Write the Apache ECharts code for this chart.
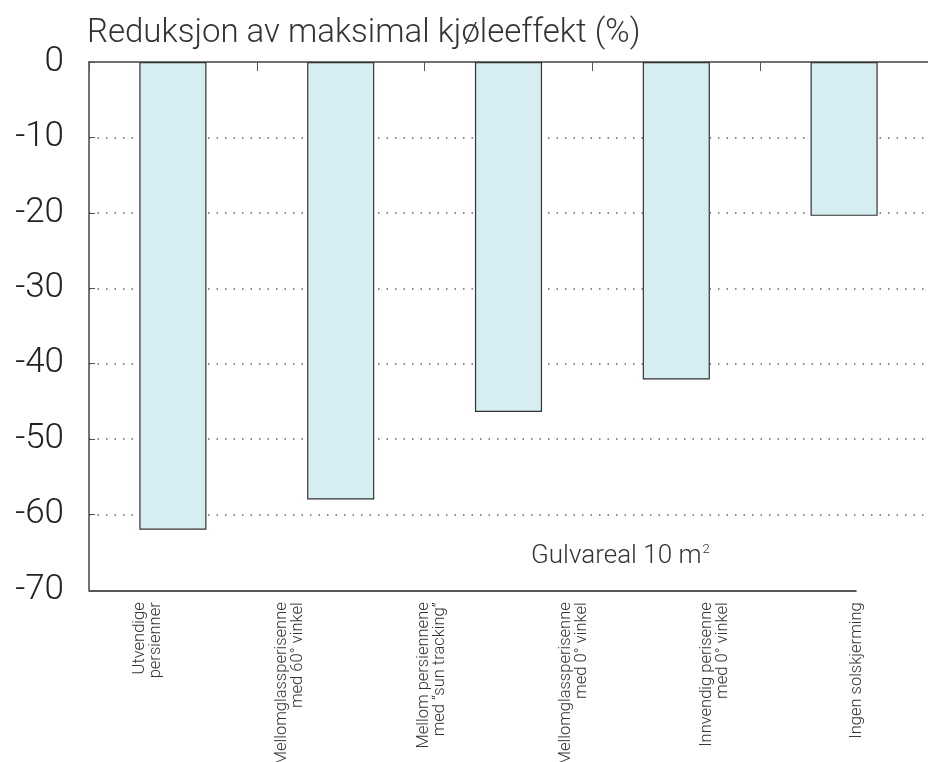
<!DOCTYPE html>
<html lang="no">
<head>
  <meta charset="UTF-8">
  <title>Reduksjon av maksimal kjøleeffekt</title>
  <style>
    body { margin: 0; }
    #main { width: 928px; height: 762px; }
  </style>
</head>
<body>
<div id="main"></div>
<script src="https://cdn.jsdelivr.net/npm/echarts@6/dist/echarts.min.js"></script>
<script>
  // kategorier (tekst under aksen)
  let labels = [
    'Utvendige\npersienner',
    'Mellomglassperisenne\nmed 60° vinkel',
    'Mellom persiennene\nmed “sun tracking”',
    'Mellomglassperisenne\nmed 0° vinkel',
    'Innvendig perisenne\nmed 0° vinkel',
    'Ingen solskjerming'
  ];
  // reduksjon i prosent, en søyle per felt
  let values = [-62, -58, -46.4, -42.1, -20.4];
  let yTicks = [0, -10, -20, -30, -40, -50, -60, -70];

  let barCats = labels.slice(0, values.length);
  let font = 'Roboto';

  let chart = echarts.init(document.getElementById('main'));
  let option = {
    animation: false,
    title: [{
      text: 'Reduksjon av maksimal kjøleeffekt (%)',
      left: 82,
      top: 12,
      textStyle: { fontFamily: font, fontWeight: 300, fontSize: 33, color: '#333' }
    }, {
      text: 'Gulvareal 10 m{sup|2}',
      left: 526,
      top: 538,
      textStyle: {
        fontFamily: font, fontWeight: 300, fontSize: 26, color: '#333',
        rich: { sup: { fontFamily: font, fontWeight: 300, fontSize: 13, color: '#333', verticalAlign: 'top', padding: [0, 0, 12, 1] } }
      }
    }],
    grid: [
      { left: 89, top: 62, height: 528, right: -11 },   // søylene
      { left: 77, top: 590, height: 1, right: -10 },    // tekst under
      { left: 89, top: 590, height: 1, right: 72 }      // bunnlinje
    ],
    xAxis: [{
      type: 'category',
      gridIndex: 0,
      data: barCats,
      position: 'top',
      axisLine: { lineStyle: { color: '#444', width: 1.5 } },
      axisTick: { show: true, inside: true, length: 9, lineStyle: { color: '#555' } },
      axisLabel: { show: false },
      splitLine: { show: false }
    }, {
      type: 'category',
      gridIndex: 1,
      data: labels,
      position: 'bottom',
      axisLine: { show: false },
      axisTick: { show: false },
      axisLabel: {
        rotate: 90,
        interval: 0,
        margin: 12,
        fontFamily: font,
        fontWeight: 300,
        fontSize: 16.5,
        lineHeight: 16,
        color: '#333'
      }
    }, {
      type: 'value',
      gridIndex: 2,
      position: 'bottom',
      axisLine: { show: true, onZero: false, lineStyle: { color: '#222', width: 1.5 } },
      axisTick: { show: false },
      axisLabel: { show: false },
      splitLine: { show: false }
    }],
    yAxis: [{
      type: 'value',
      gridIndex: 0,
      min: -70,
      max: 0,
      interval: 10,
      axisLine: { show: true, lineStyle: { color: '#444', width: 1.5 } },
      axisTick: { show: true, inside: true, length: 6, lineStyle: { color: '#555' } },
      axisLabel: {
        margin: 25,
        fontFamily: font,
        fontWeight: 300,
        fontSize: 35,
        color: '#222',
        formatter: function (v) { return yTicks.indexOf(v) >= 0 ? String(v) : ''; }
      },
      splitLine: {
        show: true,
        showMinLine: false,
        showMaxLine: false,
        lineStyle: { color: '#666', width: 1.5, type: [1.5, 7] }
      }
    }, {
      type: 'category',
      gridIndex: 1,
      show: false
    }, {
      type: 'value',
      gridIndex: 2,
      show: false
    }],
    series: [{
      type: 'bar',
      xAxisIndex: 0,
      yAxisIndex: 0,
      data: values,
      barWidth: '40%',
      itemStyle: { color: '#d6eef2', borderColor: '#333', borderWidth: 1.2 }
    }]
  };
  chart.setOption(option);
</script>
</body>
</html>
